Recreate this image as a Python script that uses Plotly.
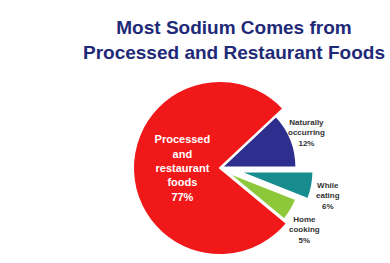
import math
import plotly.graph_objects as go

# Data (clockwise from 3 o'clock)
labels = ["While eating", "Home cooking", "Processed and restaurant foods", "Naturally occurring"]
values = [6, 5, 77, 12]
colors = ["#168C8E", "#8CC83A", "#F01818", "#2E2E8E"]
title_lines = ["Most Sodium Comes from", "Processed and Restaurant Foods"]

main_idx = values.index(max(values))
texts = [f"{l.replace(' ', '<br>')}<br>{v}%" for l, v in zip(labels, values)]
clear = "rgba(0,0,0,0)"

W, H = 390, 263
cx, cy = 220, 168
r_big, r_small = 87, 75
pulls = [0.25, 0.1, 0.0, 0.02]
label_gap, y_stretch, label_drop = 16, 1.15, 4

def dom(r):
    return dict(x=[(cx - r) / W, (cx + r) / W], y=[(H - cy - r) / H, (H - cy + r) / H])

fig = go.Figure()

# Large slice
fig.add_trace(go.Pie(
    labels=labels, values=values, sort=False, direction="clockwise", rotation=90,
    domain=dom(r_big),
    marker=dict(colors=[c if i == main_idx else clear for i, c in enumerate(colors)],
                line=dict(color=["white" if i == main_idx else clear for i in range(len(values))], width=2)),
    text=[t if i == main_idx else "" for i, t in enumerate(texts)],
    textinfo="text",
    textposition=["inside" if i == main_idx else "none" for i in range(len(values))],
    insidetextorientation="horizontal",
    textfont=dict(family="Liberation Sans, Arial", size=11, color="white", weight="bold"),
    hoverinfo="skip", showlegend=False,
))

# Small slices, exploded (domain enlarged so that pulled slices keep radius r_small)
fig.add_trace(go.Pie(
    labels=labels, values=values, sort=False, direction="clockwise", rotation=90,
    domain=dom(r_small * (1 + max(pulls))),
    pull=pulls,
    marker=dict(colors=[clear if i == main_idx else c for i, c in enumerate(colors)],
                line=dict(color=[clear if i == main_idx else "white" for i in range(len(values))], width=2)),
    textinfo="none",
    hoverinfo="skip", showlegend=False,
))

# Outside labels of the small slices, placed along each slice's bisector
total = sum(values)
start = 0.0
for i, v in enumerate(values):
    mid = math.radians(-(start + v / 2) / total * 360)
    start += v
    if i == main_idx:
        continue
    R = r_small * (1 + pulls[i]) + label_gap
    px = cx + R * math.cos(mid)
    py = cy - R * math.sin(mid) * y_stretch + label_drop
    fig.add_annotation(
        text=texts[i], xref="paper", yref="paper", x=px / W, y=1 - py / H,
        xanchor="center", yanchor="middle", showarrow=False,
        font=dict(family="Liberation Sans, Arial", size=8, color="#333333", weight="bold"),
    )

fig.add_annotation(
    text="<br>".join(title_lines), xref="paper", yref="paper",
    x=234 / W, y=1 - 15 / H, xanchor="center", yanchor="top", showarrow=False,
    font=dict(family="Liberation Sans, Arial", size=19, color="#1E2A78", weight="bold"),
)

fig.update_layout(
    width=W, height=H,
    margin=dict(l=0, r=0, t=0, b=0, autoexpand=False),
    showlegend=False,
    paper_bgcolor="white", plot_bgcolor="white",
)

fig.write_html("out.html", post_script="document.body.style.margin='0';", config={"displayModeBar": False})
